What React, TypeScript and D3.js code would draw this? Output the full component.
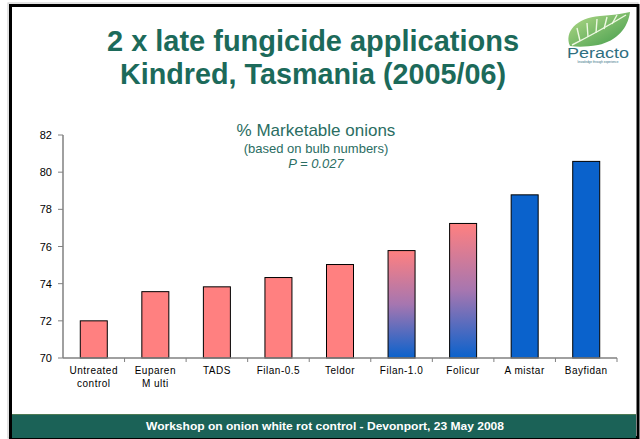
import React from "react";
import * as d3 from "d3";

const categories = ["Untreated control", "Euparen Multi", "TADS", "Filan-0.5", "Teldor", "Filan-1.0", "Folicur", "Amistar", "Bayfidan"];
const labelLines = [["Untreated", "control"], ["Euparen", "M ulti"], ["TADS"], ["Filan-0.5"], ["Teldor"], ["Filan-1.0"], ["Folicur"], ["A mistar"], ["Bayfidan"]];
const values = [72.0, 73.57, 73.83, 74.33, 75.03, 75.78, 77.24, 78.78, 80.58];
const fillType = ["pink", "pink", "pink", "pink", "pink", "grad", "grad", "blue", "blue"];
const yTicks = [70, 72, 74, 76, 78, 80, 82];

const TEAL = "#1c6a5a";

export default function App() {
  const W = 640, H = 439;
  const left = 63, right = 617, top = 135, bottom = 358;
  const x = d3.scaleBand<string>().domain(categories).range([left, right]).paddingInner(0).paddingOuter(0);
  const y = d3.scaleLinear().domain([70, 82]).range([bottom, top]);
  const bw = 27;
  const fillFor = (t: string) => (t === "pink" ? "#ff8080" : t === "blue" ? "#0a62cc" : "url(#pb)");
  return (
    <svg width={W} height={H} style={{ position: "absolute", left: 0, top: 0 }} fontFamily="Liberation Sans, Arial, sans-serif">
      <defs>
        <linearGradient id="pb" x1="0" y1="0" x2="0" y2="1">
          <stop offset="0" stopColor="#ff8080" />
          <stop offset="0.5" stopColor="#a676b0" />
          <stop offset="1" stopColor="#0a62cc" />
        </linearGradient>
        <linearGradient id="leaf" x1="0" y1="0" x2="1" y2="1">
          <stop offset="0" stopColor="#b7dc8a" />
          <stop offset="1" stopColor="#3f9a4a" />
        </linearGradient>
      </defs>
      <rect x={0} y={0} width={W} height={H} fill="#fff" />
      {/* frame */}
      <rect x={8} y={3} width={630} height={435} fill="none" stroke="#c8c8c8" strokeWidth={1} />
      <rect x={10.5} y={5.5} width={627.5} height={432} fill="none" stroke="#000" strokeWidth={3} />
      {/* footer */}
      <rect x={12} y={414} width={624} height={24} fill="#1b6257" />
      <line x1={12} x2={636} y1={414.5} y2={414.5} stroke="#4d7a55" strokeWidth={1} />
      <text x={325} y={430} fill="#fff" fontSize={11.5} fontWeight="bold" textAnchor="middle" textLength={358} lengthAdjust="spacingAndGlyphs">Workshop on onion white rot control - Devonport, 23 May 2008</text>
      {/* title */}
      <text x={313} y={51} fill={TEAL} fontSize={30} fontWeight="bold" textAnchor="middle" textLength={412} lengthAdjust="spacingAndGlyphs">2 x late fungicide applications</text>
      <text x={313} y={84} fill={TEAL} fontSize={30} fontWeight="bold" textAnchor="middle" textLength={386} lengthAdjust="spacingAndGlyphs">Kindred, Tasmania (2005/06)</text>
      {/* logo */}
      <g>
        <path d="M570,46 C564,32 576,18 600,16 C612,15 622,14 630,12 C628,28 617,41 598,45 C586,47 578,47 570,46 Z" fill="url(#leaf)" />
        <path d="M572,45 C588,37 606,27 626,15" stroke="#eef8e2" strokeWidth={1.4} fill="none" />
        <path d="M580,41 L577,28 M588,37 L587,23 M596,33 L597,19 M604,29 L607,17 M612,24 L617,15" stroke="#eef8e2" strokeWidth={1.4} fill="none" />
        <text x={598} y={58} fill="#2f6f7f" fontSize={14} textAnchor="middle" textLength={62} lengthAdjust="spacingAndGlyphs">Peracto</text>
        <text x={598} y={63} fill="#2f6f7f" fontSize={3} textAnchor="middle">knowledge through experience</text>
      </g>
      {/* chart titles */}
      <text x={316} y={136} fill="#2a6d62" fontSize={17} textAnchor="middle">% Marketable onions</text>
      <text x={316} y={153} fill="#2a6d62" fontSize={13} textAnchor="middle">(based on bulb numbers)</text>
      <text x={316} y={168} fill="#2a6d62" fontSize={13} fontStyle="italic" textAnchor="middle">P = 0.027</text>
      {/* bars */}
      {categories.map((c, i) => {
        const cx = (x(c) as number) + x.bandwidth() / 2;
        return (
          <rect key={c} x={cx - bw / 2} y={y(values[i])} width={bw} height={bottom - y(values[i])} fill={fillFor(fillType[i])} stroke="#000" strokeWidth={1} />
        );
      })}
      {/* y axis */}
      <line x1={left} x2={left} y1={top} y2={bottom} stroke="#808080" strokeWidth={1.5} />
      {yTicks.map((t) => (
        <g key={t}>
          <line x1={left - 5} x2={left} y1={y(t)} y2={y(t)} stroke="#808080" strokeWidth={1} />
          <text x={52} y={y(t) + 4} fontSize={11} textAnchor="end" fill="#000">{t}</text>
        </g>
      ))}
      {/* x axis */}
      <line x1={left} x2={right} y1={bottom} y2={bottom} stroke="#808080" strokeWidth={1.5} />
      {categories.map((c) => (
        <line key={"t" + c} x1={(x(c) as number) + x.bandwidth()} x2={(x(c) as number) + x.bandwidth()} y1={bottom} y2={bottom + 4} stroke="#808080" strokeWidth={1} />
      ))}
      {categories.map((c, i) => {
        const cx = (x(c) as number) + x.bandwidth() / 2;
        return (
          <text key={"l" + c} x={cx} y={374} fontSize={10} textAnchor="middle" fill="#000" letterSpacing={0.5}>
            {labelLines[i].map((ln, j) => (
              <tspan key={j} x={cx} dy={j === 0 ? 0 : 13}>{ln}</tspan>
            ))}
          </text>
        );
      })}
    </svg>
  );
}
